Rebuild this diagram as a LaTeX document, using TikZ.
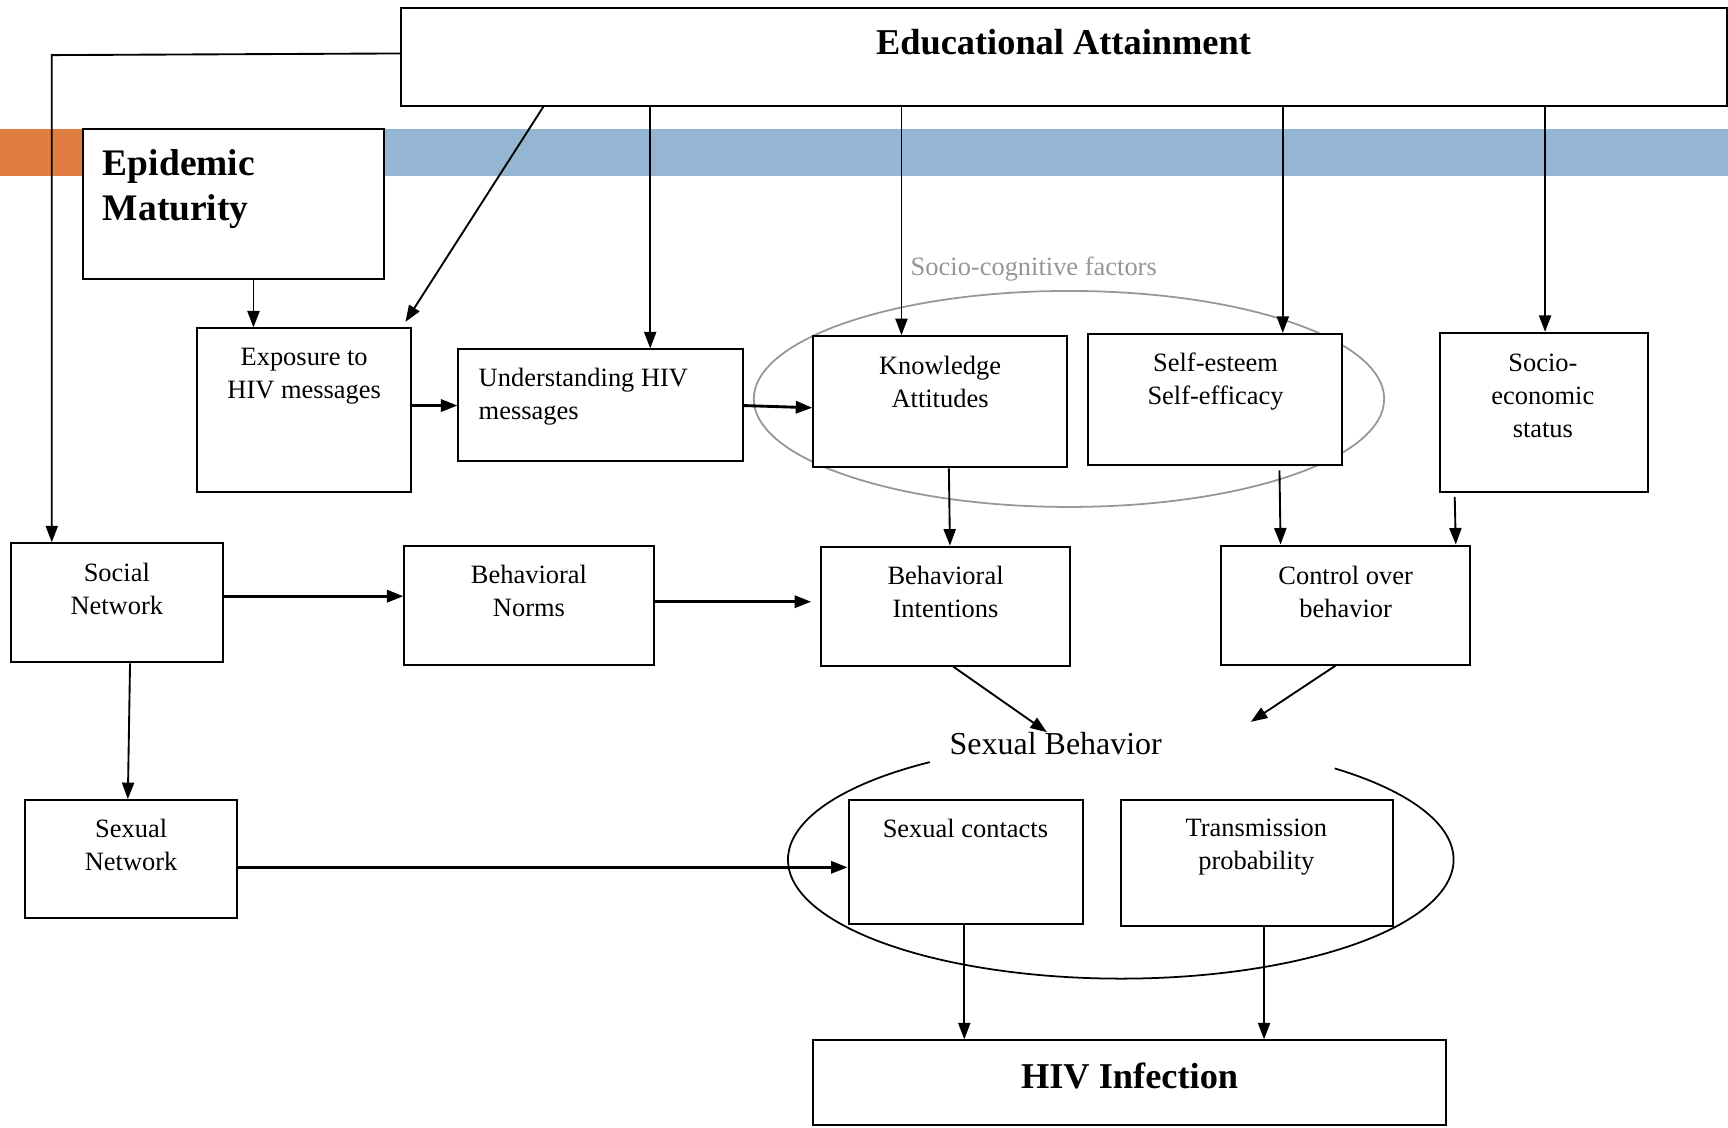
\documentclass[tikz,border=0pt]{standalone}
\usepackage{fontspec}
\setmainfont{Liberation Serif}
\usetikzlibrary{arrows.meta,calc}
\definecolor{barorange}{RGB}{224,125,64}
\definecolor{barblue}{RGB}{148,182,210}
\definecolor{ellgray}{RGB}{150,150,150}
\tikzset{
  box/.style={draw, line width=0.9pt, fill=white, inner sep=0pt},
  txt/.style={font=\fontsize{12}{15}\selectfont, align=center, inner sep=0pt},
  big/.style={font=\fontsize{16.5}{20.5}\selectfont\bfseries, inner sep=0pt},
  arr/.style={line width=0.85pt, -{Triangle[length=7.5pt,width=5.5pt]}},
  tarr/.style={arr, line width=1.3pt}
}
\begin{document}
\begin{tikzpicture}[x=0.5pt,y=-0.5pt]
\useasboundingbox (0,0) rectangle (1568,1023);
% coloured bar
\fill[barorange] (0,117) rectangle (75,160);
\fill[barblue] (75,117) rectangle (1568,160);
% ellipses
\draw[ellgray, line width=0.8pt] (970,362) ellipse [x radius=286, y radius=98];
\draw[line width=0.8pt] (1017,780) ++(-125:302 and 108) arc[start angle=-125, end angle=-410, x radius=302, y radius=108];
% boxes
\node[box, minimum width=601.5pt, minimum height=44.5pt] (ea) at (965.5,51.5) {};
\node[box, minimum width=136.5pt, minimum height=68pt] (epi) at (211.5,185) {};
\node[box, minimum width=97pt, minimum height=74pt] (exp) at (276,372) {};
\node[box, minimum width=129pt, minimum height=50.5pt] (und) at (545,367.5) {};
\node[box, minimum width=115pt, minimum height=59.5pt] (know) at (853,364.5) {};
\node[box, minimum width=115.5pt, minimum height=59.5pt] (self) at (1102.5,362.5) {};
\node[box, minimum width=94pt, minimum height=72pt] (ses) at (1401,374) {};
\node[box, minimum width=96pt, minimum height=54pt] (soc) at (106,547) {};
\node[box, minimum width=113pt, minimum height=54pt] (norms) at (480,549) {};
\node[box, minimum width=113pt, minimum height=54pt] (intent) at (858,550) {};
\node[box, minimum width=113pt, minimum height=54pt] (ctrl) at (1221,549) {};
\node[box, minimum width=96pt, minimum height=53.5pt] (sexnet) at (119,779.5) {};
\node[box, minimum width=106.5pt, minimum height=56pt] (contacts) at (876.5,782) {};
\node[box, minimum width=123.5pt, minimum height=57pt] (trans) at (1140.5,783) {};
\node[box, minimum width=287pt, minimum height=38.5pt] (hiv) at (1025,982.5) {};
% texts
\node[big] (eatxt) at (965,38) {Educational Attainment};
\node[big, font=\fontsize{17}{20.5}\selectfont\bfseries, align=left, anchor=west] (epitxt) at (93,171.5) {Epidemic\\Maturity};
\node[txt] (exptxt) at (276,341) {Exposure to\\HIV messages};
\node[txt, align=left, anchor=west] (undtxt) at (434,360) {Understanding HIV\\messages};
\node[txt] (knowtxt) at (853,347) {Knowledge\\Attitudes};
\node[txt] (selftxt) at (1103,346) {Self-esteem\\Self-efficacy};
\node[txt] (sestxt) at (1400,359) {Socio-\\economic\\status};
\node[txt, text=ellgray, anchor=west] (sctxt) at (826,244) {Socio-cognitive factors};
\node[txt] (soctxt) at (106,534.5) {Social\\Network};
\node[txt] (normstxt) at (480,536) {Behavioral\\Norms};
\node[txt] (intenttxt) at (858,537) {Behavioral\\Intentions};
\node[txt] (ctrltxt) at (1221,537) {Control over\\behavior};
\node[txt, font=\fontsize{14.5}{17}\selectfont] (sb) at (958,675) {Sexual Behavior};
\node[txt] (sexnettxt) at (119,767) {Sexual\\Network};
\node[txt] (contactstxt) at (876,752) {Sexual contacts};
\node[txt] (transtxt) at (1140,768.5) {Transmission\\probability};
\node[big] (hivtxt) at (1025,976) {HIV Infection};
% connectors
\coordinate (cornerL) at (47,50);
\coordinate (sbr) at (1135,655);
\draw[arr] ($(ea.west)+(0,-3)$) -- (cornerL) -- (cornerL |- soc.north);
\draw[arr] (ea.south -| 493,0) -- ($(exp.north east)+(-6,-5)$);
\draw[arr] (ea.south -| 590,0) -- (und.north -| 590,0);
\draw[arr] (ea.south -| 818,0) -- (know.north -| 818,0);
\draw[arr] (ea.south -| 1164,0) -- (self.north -| 1164,0);
\draw[arr] (ea.south -| 1402,0) -- (ses.north -| 1402,0);
\draw[arr] (epi.south -| 230,0) -- (exp.north -| 230,0);
\draw[tarr] (exp.east |- 0,368) -- (und.west |- 0,368);
\draw[tarr] (und.east |- 0,368) -- (know.west |- 0,370);
\draw[arr] (know.south -| 861,0) -- (intent.north -| 862,0);
\draw[arr] ($(self.south -| 1161,0)+(0,4)$) -- (ctrl.north -| 1162,0);
\draw[arr] ($(ses.south -| 1320,0)+(0,4)$) -- (ctrl.north -| 1321,0);
\draw[tarr] (soc.east |- 0,541) -- (norms.west |- 0,541);
\draw[tarr] (norms.east |- 0,546) -- ($(intent.west |- 0,546)+(-8,0)$);
\draw[arr] (soc.south -| 118,0) -- (sexnet.north -| 116,0);
\draw[tarr] (sexnet.east |- 0,787) -- (contacts.west |- 0,787);
\draw[arr] (intent.south -| 865,0) -- (sb.north -| 950,0);
\draw[arr] (ctrl.south -| 1212,0) -- (sbr);
\draw[arr] (contacts.south -| 875,0) -- (hiv.north -| 875,0);
\draw[arr] (trans.south -| 1147,0) -- (hiv.north -| 1147,0);
\end{tikzpicture}
\end{document}
